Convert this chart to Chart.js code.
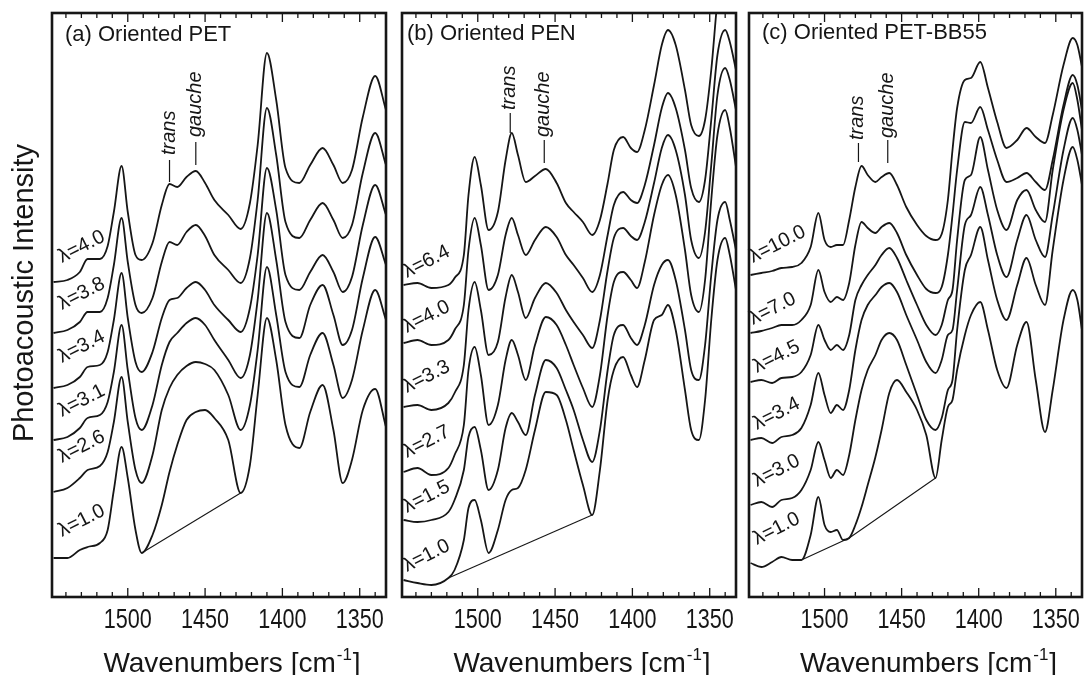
<!DOCTYPE html>
<html>
<head>
<meta charset="utf-8">
<title>Photoacoustic spectra of oriented PET, PEN and PET-BB55</title>
<script src="https://cdn.jsdelivr.net/npm/chart.js@4.4.1/dist/chart.umd.min.js"></script>
<style>
  html, body { margin: 0; padding: 0; background: #fff; }
  body { position: relative; width: 1084px; height: 675px; overflow: hidden; }
  canvas { position: absolute; top: 0; }
</style>
</head>
<body>
<canvas id="panelA" width="392" height="675" style="left:0px"></canvas>
<canvas id="panelB" width="346" height="675" style="left:396px"></canvas>
<canvas id="panelC" width="341" height="675" style="left:743px"></canvas>
<script>
// Wavenumber grids (cm-1) and photoacoustic intensities (arbitrary units, offset stack)

// (a) oriented PET
const wnPET = [1548,1539,1531,1526,1518,1513,1509,1504,1500,1495,1491,1484,1478,1473,1468,1462,1456,1450,1444,1435,1427,1421,1416,1410,1404,1398,1389,1382,1374,1367,1361,1355,1348,1340,1333];
const petL40 = [315,317,325,338,338,351,385,431,385,342,337,354,392,413,410,420,426,414,397,382,368,394,452,544,497,429,414,432,449,432,414,427,480,521,487];
const petL38 = [264,267,275,285,285,299,332,379,335,292,284,299,335,355,352,365,372,361,342,327,314,339,397,489,442,375,359,377,394,377,359,372,424,464,432];
const petL34 = [209,212,220,230,232,245,277,324,279,235,225,245,279,297,299,309,315,307,292,277,265,289,342,429,387,322,307,325,342,325,305,320,372,412,382];
const petL31 = [157,160,169,179,182,195,225,272,227,179,167,192,232,255,264,274,279,272,257,237,219,242,297,384,337,275,259,292,312,282,252,267,319,360,332];
const petL26 = [105,109,119,127,131,145,175,220,175,127,114,142,187,209,222,231,235,233,227,202,167,192,247,330,282,225,210,242,264,232,199,217,267,307,277];
const petL10 = [39,39,47,50,54,67,107,150,119,67,44,62,92,125,152,177,185,187,179,157,104,132,202,279,237,172,149,185,212,167,114,137,187,208,170];
const petRatios = ['λ=4.0', 'λ=3.8', 'λ=3.4', 'λ=3.1', 'λ=2.6', 'λ=1.0'];
const petBaseline = [1491, 1427];

// (b) oriented PEN
const wnPEN = [1548,1539,1530,1519,1515,1509,1506,1502,1498,1493,1487,1482,1478,1474,1469,1463,1456,1449,1443,1438,1432,1426,1421,1416,1412,1406,1401,1397,1392,1386,1381,1377,1372,1366,1362,1357,1353,1349,1345,1340,1337,1333];
const penL64 = [312,314,309,312,319,342,402,440,412,367,385,437,464,442,415,421,428,414,394,385,375,362,377,414,447,460,449,445,467,512,552,567,552,507,472,461,477,527,597,660,655,620];
const penL40 = [254,257,252,257,267,292,347,379,352,307,322,362,379,362,342,357,370,360,342,332,319,305,322,362,392,405,397,394,412,452,489,504,489,447,409,395,417,477,542,567,555,527];
const penL33 = [190,192,187,194,204,232,287,315,287,242,255,300,322,305,279,299,314,304,287,275,262,249,277,327,359,369,361,357,375,414,449,462,447,402,357,339,365,432,502,529,517,487];
const penL27 = [125,129,122,129,142,172,227,250,222,172,192,237,257,242,217,252,280,272,252,232,209,190,222,282,315,325,317,309,335,382,412,422,402,347,302,285,317,397,462,487,469,430];
const penL15 = [77,75,77,85,97,127,160,170,147,107,127,169,184,175,162,202,237,229,207,187,157,135,167,227,262,272,259,252,272,312,332,337,317,267,227,217,252,322,377,395,377,347];
const penL10 = [17,14,12,19,27,57,89,97,77,44,67,97,107,109,127,167,205,202,177,147,112,82,127,197,227,240,222,210,237,277,282,292,267,207,167,157,197,277,337,359,342,307];
const penRatios = ['λ=6.4', 'λ=4.0', 'λ=3.3', 'λ=2.7', 'λ=1.5', 'λ=1.0'];
const penBaseline = [1519, 1426];

// (c) oriented PET-BB55
const wnBB = [1548,1541,1534,1528,1521,1515,1509,1504,1500,1496,1492,1488,1484,1480,1476,1472,1467,1463,1458,1453,1447,1440,1434,1428,1424,1420,1417,1414,1409,1405,1399,1394,1388,1382,1375,1369,1363,1357,1352,1345,1339,1336,1333];
const bbL100 = [322,324,326,329,330,334,350,384,357,350,352,352,377,410,431,422,415,420,424,412,390,372,361,357,363,397,447,489,517,519,535,509,475,449,457,469,460,454,482,532,559,552,530];
const bbL70 = [264,266,269,272,272,277,292,327,305,295,300,297,314,352,375,369,364,370,374,364,342,322,308,304,310,342,382,427,475,474,490,467,437,415,419,424,415,407,437,492,522,512,487];
const bbL45 = [215,217,214,219,220,225,242,272,257,247,252,247,262,297,312,322,332,342,349,339,317,292,272,262,272,297,307,357,417,422,460,427,387,367,397,407,387,375,427,487,514,497,467];
const bbL34 = [157,159,154,160,162,169,192,224,202,184,192,187,207,247,277,292,302,310,314,305,282,257,235,224,237,262,267,307,372,382,410,382,342,320,357,382,357,340,382,447,479,467,442];
const bbL30 = [92,95,90,97,99,107,127,155,137,119,127,122,142,177,207,227,242,257,264,257,232,202,177,167,179,207,217,267,327,342,370,337,297,277,312,339,312,292,347,417,450,437,412];
const bbL10 = [34,30,35,40,37,37,62,100,72,65,67,57,59,72,90,112,140,167,204,217,205,187,162,119,157,190,197,227,262,282,295,267,227,209,252,275,217,165,207,277,307,297,267];
const bbRatios = ['λ=10.0', 'λ=7.0', 'λ=4.5', 'λ=3.4', 'λ=3.0', 'λ=1.0'];
const bbBaseline = [1515, 1484, 1428];

const FONT = 'Arial, "Liberation Sans", Helvetica, sans-serif';
const INK = '#161616';

// draws frame, inward ticks, tick numbers, titles and in-plot labels
const decor = {
  id: 'decor',
  afterDraw(chart, args, opts) {
    const { ctx, chartArea: a, scales: { x, y } } = chart;
    ctx.save();
    ctx.strokeStyle = INK;
    ctx.fillStyle = INK;

    ctx.lineWidth = 2.6;
    ctx.strokeRect(a.left, a.top, a.right - a.left, a.bottom - a.top);

    ctx.lineWidth = 1.3;
    ctx.font = '27px ' + FONT;
    ctx.textAlign = 'center';
    ctx.textBaseline = 'alphabetic';
    x.ticks.forEach(t => {
      const px = x.getPixelForValue(t.value);
      const major = t.value % 50 === 0;
      const len = major ? 9 : 5;
      ctx.beginPath();
      ctx.moveTo(px, a.bottom); ctx.lineTo(px, a.bottom - len);
      ctx.moveTo(px, a.top); ctx.lineTo(px, a.top + len);
      ctx.stroke();
      if (major) {
        // narrow numerals under the major ticks
        ctx.save();
        ctx.translate(px, a.bottom + 31);
        ctx.scale(0.8, 1);
        ctx.fillText(String(t.value), 0, 0);
        ctx.restore();
      }
    });
    ctx.textAlign = 'left';

    // panel title
    ctx.font = '22px ' + FONT;
    ctx.fillText(opts.title, a.left + opts.titleAt[0], a.top + opts.titleAt[1]);

    // draw-ratio labels, tilted along the curve starts
    ctx.font = '20px ' + FONT;
    opts.ratios.forEach((txt, i) => {
      const p = opts.ratioAt[i];
      ctx.save();
      ctx.translate(a.left + p[0], a.top + p[1]);
      ctx.rotate(-27 * Math.PI / 180);
      ctx.fillText(txt, 0, 0);
      ctx.restore();
    });

    // trans / gauche markers
    ctx.font = 'italic 20px ' + FONT;
    ctx.lineWidth = 1.2;
    opts.marks.forEach(m => {
      const px = x.getPixelForValue(m.wn);
      ctx.beginPath();
      ctx.moveTo(px, y.getPixelForValue(m.line[0]));
      ctx.lineTo(px, y.getPixelForValue(m.line[1]));
      ctx.stroke();
      ctx.save();
      ctx.translate(px + 5, y.getPixelForValue(m.text));
      ctx.rotate(-Math.PI / 2);
      ctx.fillText(m.label, 0, 0);
      ctx.restore();
    });

    // x axis title with superscript
    const cx = (a.left + a.right) / 2 + 13;
    const base = 672;
    ctx.font = '28px ' + FONT;
    const w1 = ctx.measureText('Wavenumbers [cm').width;
    const w3 = ctx.measureText(']').width;
    ctx.font = '17px ' + FONT;
    const w2 = ctx.measureText('-1').width;
    const sx = cx - (w1 + w2 + w3 + 2) / 2;
    ctx.font = '28px ' + FONT;
    ctx.fillText('Wavenumbers [cm', sx, base);
    ctx.font = '17px ' + FONT;
    ctx.fillText('-1', sx + w1 + 1, base - 12);
    ctx.font = '28px ' + FONT;
    ctx.fillText(']', sx + w1 + w2 + 2, base);

    if (opts.yTitle) {
      ctx.save();
      ctx.translate(33, 293);
      ctx.rotate(-Math.PI / 2);
      ctx.font = '29px ' + FONT;
      ctx.textAlign = 'center';
      ctx.fillText(opts.yTitle, 0, 0);
      ctx.restore();
    }
    ctx.restore();
  }
};

function makeChart(id, wn, series, ratios, baseline, pad, extra) {
  const lowest = series[series.length - 1];
  const datasets = series.map(vals => ({
    data: wn.map((w, i) => ({ x: w, y: vals[i] })),
    borderColor: INK,
    borderWidth: 1.8,
    pointRadius: 0,
    fill: false,
    cubicInterpolationMode: 'monotone'
  }));
  datasets.push({
    data: baseline.map(w => ({ x: w, y: lowest[wn.indexOf(w)] })),
    borderColor: INK,
    borderWidth: 1.1,
    pointRadius: 0,
    fill: false,
    tension: 0
  });

  return new Chart(document.getElementById(id), {
    type: 'line',
    data: { datasets },
    options: {
      responsive: false,
      animation: false,
      events: [],
      layout: { padding: pad },
      plugins: {
        legend: { display: false },
        tooltip: { enabled: false },
        decor: Object.assign({ ratios }, extra)
      },
      scales: {
        x: {
          type: 'linear',
          reverse: true,
          min: 1333,
          max: 1549,
          grid: { display: false },
          border: { display: false },
          ticks: {
            display: false,
            stepSize: 10,
            includeBounds: false,
            autoSkip: false,
            maxRotation: 0
          },
          afterFit: s => { s.height = 78; }
        },
        y: { display: false, min: 0, max: 584 }
      }
    },
    plugins: [decor]
  });
}

makeChart('panelA', wnPET, [petL40, petL38, petL34, petL31, petL26, petL10], petRatios, petBaseline,
  { left: 52, right: 6, top: 13, bottom: 0 },
  {
    title: '(a) Oriented PET',
    titleAt: [13, 28],
    yTitle: 'Photoacoustic Intensity',
    ratioAt: [[10, 250], [10, 297], [10, 350], [10, 404], [10, 450], [10, 524]],
    marks: [
      { label: 'trans', wn: 1473, line: [415, 437], text: 442 },
      { label: 'gauche', wn: 1456, line: [432, 455], text: 460 }
    ]
  });

makeChart('panelB', wnPEN, [penL64, penL40, penL33, penL27, penL15, penL10], penRatios, penBaseline,
  { left: 6, right: 6, top: 13, bottom: 0 },
  {
    title: '(b) Oriented PEN',
    titleAt: [5, 27],
    ratioAt: [[5, 265], [5, 320], [5, 380], [5, 445], [5, 500], [5, 559]],
    marks: [
      { label: 'trans', wn: 1479, line: [464, 484], text: 487 },
      { label: 'gauche', wn: 1457, line: [434, 457], text: 460 }
    ]
  });

makeChart('panelC', wnBB, [bbL100, bbL70, bbL45, bbL34, bbL30, bbL10], bbRatios, bbBaseline,
  { left: 6, right: 2, top: 13, bottom: 0 },
  {
    title: '(c) Oriented PET-BB55',
    titleAt: [13, 26],
    ratioAt: [[4, 250], [4, 312], [8, 360], [8, 417], [8, 474], [8, 532]],
    marks: [
      { label: 'trans', wn: 1478, line: [435, 454], text: 457 },
      { label: 'gauche', wn: 1459, line: [434, 457], text: 459 }
    ]
  });
</script>
</body>
</html>
